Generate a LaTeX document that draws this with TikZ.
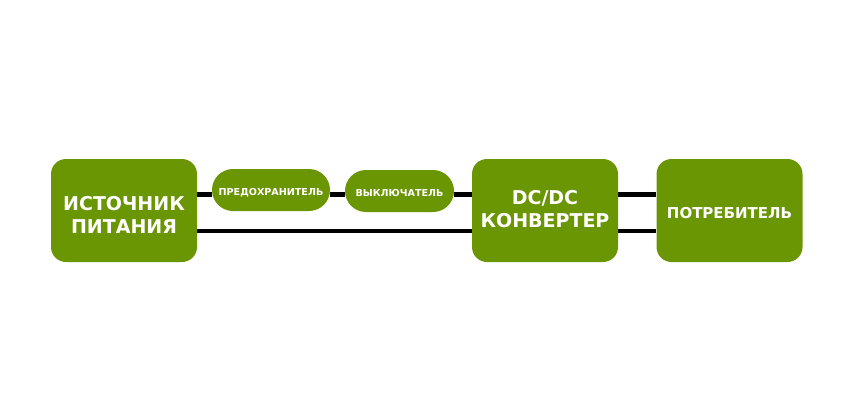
\documentclass[tikz,border=0pt]{standalone}
\usepackage{fontspec}
\setmainfont{DejaVu Sans}
\usetikzlibrary{backgrounds}
\definecolor{leaf}{RGB}{107,150,3}
\newcommand{\twolines}[3]{\raisebox{#1}[0pt][0pt]{\begin{tabular}[t]{@{}c@{}}#2\\#3\end{tabular}}}
\newcommand{\oneline}[2]{\raisebox{#1}[0pt][0pt]{#2}}
\tikzset{
  bigbox/.style={rectangle, fill=leaf, rounded corners=15pt, minimum width=146pt, minimum height=103pt, inner sep=0pt, text=white, font=\bfseries\fontsize{19}{23}\selectfont},
  pill/.style={rectangle, fill=leaf, rounded corners=21pt, minimum height=42pt, inner sep=0pt, text=white, font=\bfseries\fontsize{9.6}{11}\selectfont},
  wire/.style={line width=4.6pt, black}
}
\begin{document}
\begin{tikzpicture}[x=1pt,y=1pt]
\useasboundingbox (0,0) rectangle (850,400);
\node[bigbox] (src) at (124,189.5) {\twolines{0pt}{ИСТОЧНИК}{ПИТАНИЯ}};
\node[pill, minimum width=118pt] (fuse) at (271,210) {\oneline{-5.5pt}{ПРЕДОХРАНИТЕЛЬ}};
\node[pill, minimum width=109pt] (sw) at (399.5,209) {\oneline{-5pt}{ВЫКЛЮЧАТЕЛЬ}};
\node[bigbox] (dc) at (545,189.5) {\twolines{6.5pt}{DC/DC}{КОНВЕРТЕР}};
\node[bigbox, font=\bfseries\fontsize{15}{18}\selectfont] (load) at (729.5,189.5) {\oneline{-8pt}{ПОТРЕБИТЕЛЬ}};
\coordinate (top) at (0,205.5);
\coordinate (bot) at (0,169);
\begin{scope}[on background layer]
\draw[wire] (src.east |- top) -- (fuse.west |- top);
\draw[wire] (fuse.east |- top) -- (sw.west |- top);
\draw[wire] (sw.east |- top) -- (dc.west |- top);
\draw[wire] (src.east |- bot) -- (dc.west |- bot);
\draw[wire] (dc.east |- top) -- (load.west |- top);
\draw[wire] (dc.east |- bot) -- (load.west |- bot);
\end{scope}
\end{tikzpicture}
\end{document}
